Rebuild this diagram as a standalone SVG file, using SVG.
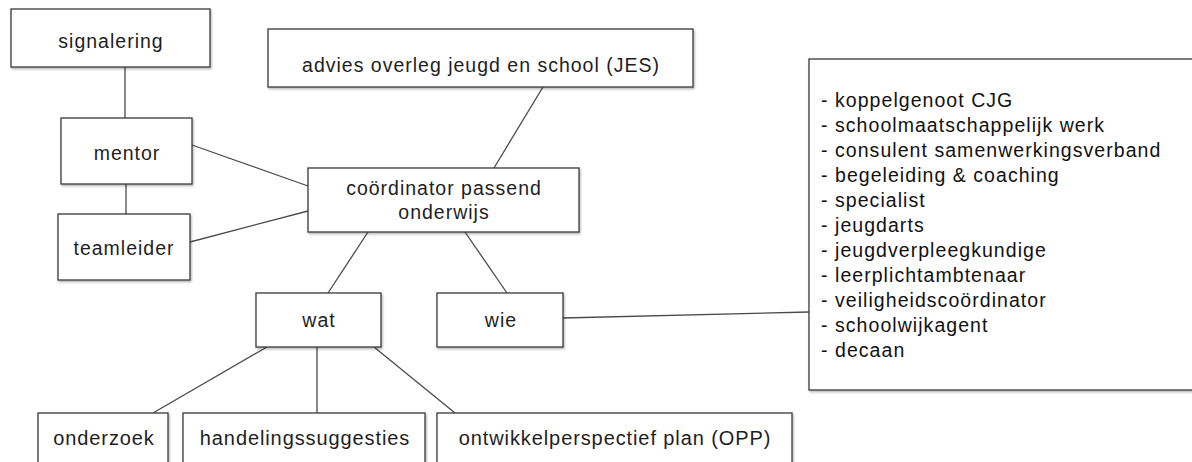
<svg xmlns="http://www.w3.org/2000/svg" width="1192" height="462" viewBox="0 0 1192 462">
<defs>
<filter id="sh" x="-5%" y="-5%" width="110%" height="120%">
<feDropShadow dx="1" dy="1.5" stdDeviation="1" flood-color="#000" flood-opacity="0.3"/>
</filter>
<style>
rect.box{fill:#fff;stroke:#3a3a3a;stroke-width:1.3;filter:url(#sh)}
text{font-family:"Liberation Sans",Arial,sans-serif;font-size:19.5px;fill:#1e1e1e;letter-spacing:1px}
text.c{text-anchor:middle}
text.b{font-size:20px;letter-spacing:0.9px}
text.l{fill:#111;letter-spacing:1.05px}
.lines line{stroke:#4a4a4a;stroke-width:1.3}
</style>
</defs>
<rect width="1192" height="462" fill="#fff"/>
<g class="lines" id="connectors">
<line x1="125" y1="67" x2="125" y2="118"/>
<line x1="126" y1="184" x2="126" y2="214"/>
<line x1="192" y1="145" x2="308" y2="186"/>
<line x1="190" y1="242" x2="308" y2="211"/>
<line x1="543" y1="87" x2="494" y2="168"/>
<line x1="368" y1="232" x2="328" y2="293"/>
<line x1="465" y1="232" x2="507" y2="293"/>
<line x1="563" y1="318" x2="809" y2="312"/>
<line x1="267" y1="347" x2="153" y2="413"/>
<line x1="317" y1="347" x2="317" y2="413"/>
<line x1="374" y1="347" x2="455" y2="413"/>
</g>
<g id="signalering"><rect class="box" x="11" y="9" width="199" height="58"/><text class="c" x="111" y="48">signalering</text></g>
<g id="mentor"><rect class="box" x="61" y="118" width="131" height="66"/><text class="c" x="127" y="160">mentor</text></g>
<g id="teamleider"><rect class="box" x="58" y="214" width="132" height="66"/><text class="c" x="124" y="255">teamleider</text></g>
<g id="advies"><rect class="box" x="268" y="29" width="425" height="58"/><text class="c" x="481" y="72">advies overleg jeugd en school (JES)</text></g>
<g id="coordinator"><rect class="box" x="308" y="168" width="271" height="64"/><text class="c" x="444" y="195">coördinator passend</text><text class="c" x="444" y="219">onderwijs</text></g>
<g id="wat"><rect class="box" x="256" y="293" width="125" height="54"/><text class="c" x="319" y="327">wat</text></g>
<g id="wie"><rect class="box" x="437" y="293" width="126" height="54"/><text class="c" x="501" y="327">wie</text></g>
<g id="lijst"><rect class="box" x="809" y="59" width="400" height="331"/>
<text class="l" x="821" y="107">- koppelgenoot CJG</text>
<text class="l" x="821" y="132">- schoolmaatschappelijk werk</text>
<text class="l" x="821" y="157">- consulent samenwerkingsverband</text>
<text class="l" x="821" y="182">- begeleiding &amp; coaching</text>
<text class="l" x="821" y="207">- specialist</text>
<text class="l" x="821" y="232">- jeugdarts</text>
<text class="l" x="821" y="257">- jeugdverpleegkundige</text>
<text class="l" x="821" y="282">- leerplichtambtenaar</text>
<text class="l" x="821" y="307">- veiligheidscoördinator</text>
<text class="l" x="821" y="332">- schoolwijkagent</text>
<text class="l" x="821" y="357">- decaan</text>
</g>
<g id="onderzoek"><rect class="box" x="38" y="413" width="130" height="60"/><text class="c b" x="104" y="445">onderzoek</text></g>
<g id="handelingssuggesties"><rect class="box" x="183" y="413" width="242" height="60"/><text class="c b" x="305" y="445">handelingssuggesties</text></g>
<g id="opp"><rect class="box" x="437" y="413" width="355" height="60"/><text class="c b" x="615" y="445">ontwikkelperspectief plan (OPP)</text></g>
</svg>
